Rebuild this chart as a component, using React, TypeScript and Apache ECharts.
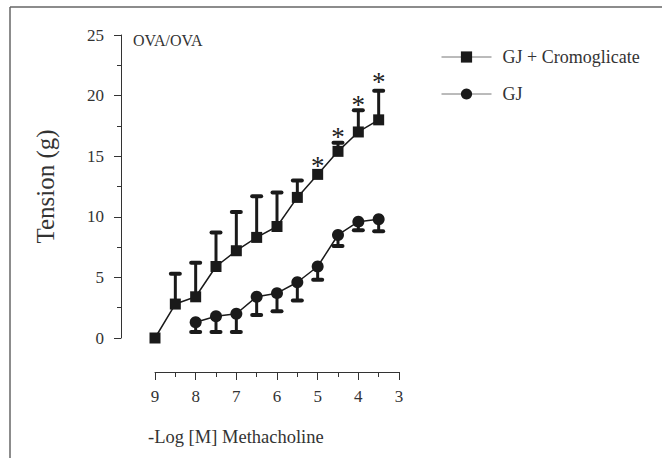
import React, { useEffect, useRef } from "react";
import * as echarts from "echarts";

const xs = [9, 8.5, 8, 7.5, 7, 6.5, 6, 5.5, 5, 4.5, 4, 3.5];
const cromoValues = [0, 2.8, 3.4, 5.9, 7.2, 8.3, 9.2, 11.6, 13.5, 15.4, 17.0, 18.0];
const cromoUpper = [null, 5.3, 6.2, 8.7, 10.4, 11.7, 12.0, 13.0, null, 16.1, 18.8, 20.4];
const gjX = [8, 7.5, 7, 6.5, 6, 5.5, 5, 4.5, 4, 3.5];
const gjValues = [1.3, 1.8, 2.0, 3.4, 3.7, 4.6, 5.9, 8.5, 9.6, 9.8];
const gjLower = [0.5, 0.5, 0.5, 1.9, 2.2, 3.1, 4.8, 7.6, 8.9, 8.8];
const starX = [5, 4.5, 4, 3.5];
const starY = [14.2, 16.6, 19.2, 21.1];
const seriesNames = ["GJ + Cromoglicate", "GJ"];

const FONT = "'Liberation Serif', 'Times New Roman', serif";
const INK = "#1a1a1a";
const TEXT = "#333";

export default function App() {
  const ref = useRef<HTMLDivElement>(null);
  useEffect(() => {
    document.body.style.margin = "0";
    const chart = echarts.init(ref.current!, null, { renderer: "svg" });

    const errRender = (params: any, api: any) => {
      const x = api.value(0);
      const p0 = api.coord([x, api.value(1)]);
      const p1 = api.coord([x, api.value(2)]);
      return {
        type: "group",
        children: [
          { type: "line", shape: { x1: p0[0], y1: p0[1], x2: p1[0], y2: p1[1] }, style: { stroke: INK, lineWidth: 3 } },
          { type: "line", shape: { x1: p1[0] - 4.5, y1: p1[1], x2: p1[0] + 4.5, y2: p1[1] }, style: { stroke: INK, lineWidth: 4, lineCap: "round" } },
        ],
      };
    };

    const cromoErr = xs
      .map((x, i) => [x, cromoValues[i], cromoUpper[i]])
      .filter((d) => d[2] !== null);
    const gjErr = gjX.map((x, i) => [x, gjValues[i], gjLower[i]]);

    chart.setOption({
      animation: false,
      color: [INK, INK, INK, INK, "#222"],
      grid: { left: 155, right: 263, top: 35, bottom: 120 },
      xAxis: {
        type: "value",
        min: 3,
        max: 9,
        interval: 1,
        inverse: true,
        offset: 34,
        axisLine: { onZero: false, lineStyle: { color: TEXT, width: 1 } },
        axisTick: { length: 8, lineStyle: { color: TEXT } },
        minorTick: { show: true, splitNumber: 2, length: 5, lineStyle: { color: TEXT } },
        splitLine: { show: false },
        axisLabel: { margin: 16, color: TEXT, fontFamily: FONT, fontSize: 17 },
      },
      yAxis: {
        type: "value",
        min: 0,
        max: 25,
        interval: 5,
        offset: 34,
        name: "Tension (g)",
        nameLocation: "middle",
        nameGap: 63,
        nameTextStyle: { color: TEXT, fontFamily: FONT, fontSize: 25 },
        axisLine: { show: true, onZero: false, lineStyle: { color: TEXT, width: 1 } },
        axisTick: { show: true, length: 7, lineStyle: { color: TEXT } },
        minorTick: { show: true, splitNumber: 2, length: 4, lineStyle: { color: TEXT } },
        splitLine: { show: false },
        axisLabel: { margin: 17, color: TEXT, fontFamily: FONT, fontSize: 17 },
      },
      legend: {
        data: seriesNames,
        orient: "vertical",
        left: 436,
        top: 43,
        itemWidth: 50,
        itemHeight: 14,
        itemGap: 19,
        textStyle: { color: TEXT, fontFamily: FONT, fontSize: 18, padding: [0, 0, 0, 6] },
        lineStyle: { color: "#777", width: 1 },
      },
      graphic: [
        { type: "line", shape: { x1: 10, y1: 7, x2: 662, y2: 7 }, style: { stroke: "#666", lineWidth: 1.5 } },
        { type: "line", shape: { x1: 10, y1: 7, x2: 10, y2: 458 }, style: { stroke: "#666", lineWidth: 1.5 } },
        { type: "text", left: 133, top: 32, style: { text: "OVA/OVA", fill: TEXT, fontFamily: FONT, fontSize: 16 } },
        { type: "text", left: 148, top: 427, style: { text: "-Log [M] Methacholine", fill: TEXT, fontFamily: FONT, fontSize: 18.5 } },
      ],
      series: [
        {
          type: "custom",
          name: "cromoErr",
          renderItem: errRender,
          encode: { x: 0, y: [1, 2] },
          data: cromoErr,
          z: 1,
          silent: true,
        },
        {
          type: "custom",
          name: "gjErr",
          renderItem: errRender,
          encode: { x: 0, y: [1, 2] },
          data: gjErr,
          z: 1,
          silent: true,
        },
        {
          type: "line",
          name: seriesNames[0],
          data: xs.map((x, i) => [x, cromoValues[i]]),
          symbol: "rect",
          symbolSize: 11,
          showAllSymbol: true,
          lineStyle: { color: INK, width: 1.5 },
          itemStyle: { color: INK },
          z: 3,
        },
        {
          type: "line",
          name: seriesNames[1],
          data: gjX.map((x, i) => [x, gjValues[i]]),
          symbol: "circle",
          symbolSize: 12,
          showAllSymbol: true,
          lineStyle: { color: INK, width: 1.5 },
          itemStyle: { color: INK },
          z: 3,
        },
        {
          type: "custom",
          name: "significance",
          colorBy: "series",
          itemStyle: { color: "#222" },
          renderItem: (params: any, api: any) => {
            const p = api.coord([api.value(0), api.value(1)]);
            return {
              type: "text",
              x: p[0],
              y: p[1],
              style: { text: "*", fill: "#222", fontFamily: FONT, fontSize: 27, align: "center", verticalAlign: "middle" },
            };
          },
          encode: { x: 0, y: 1 },
          data: starX.map((x, i) => [x, starY[i]]),
          z: 4,
          silent: true,
        },
      ],
    });
    return () => chart.dispose();
  }, []);
  return <div ref={ref} style={{ width: 662, height: 458 }} />;
}
